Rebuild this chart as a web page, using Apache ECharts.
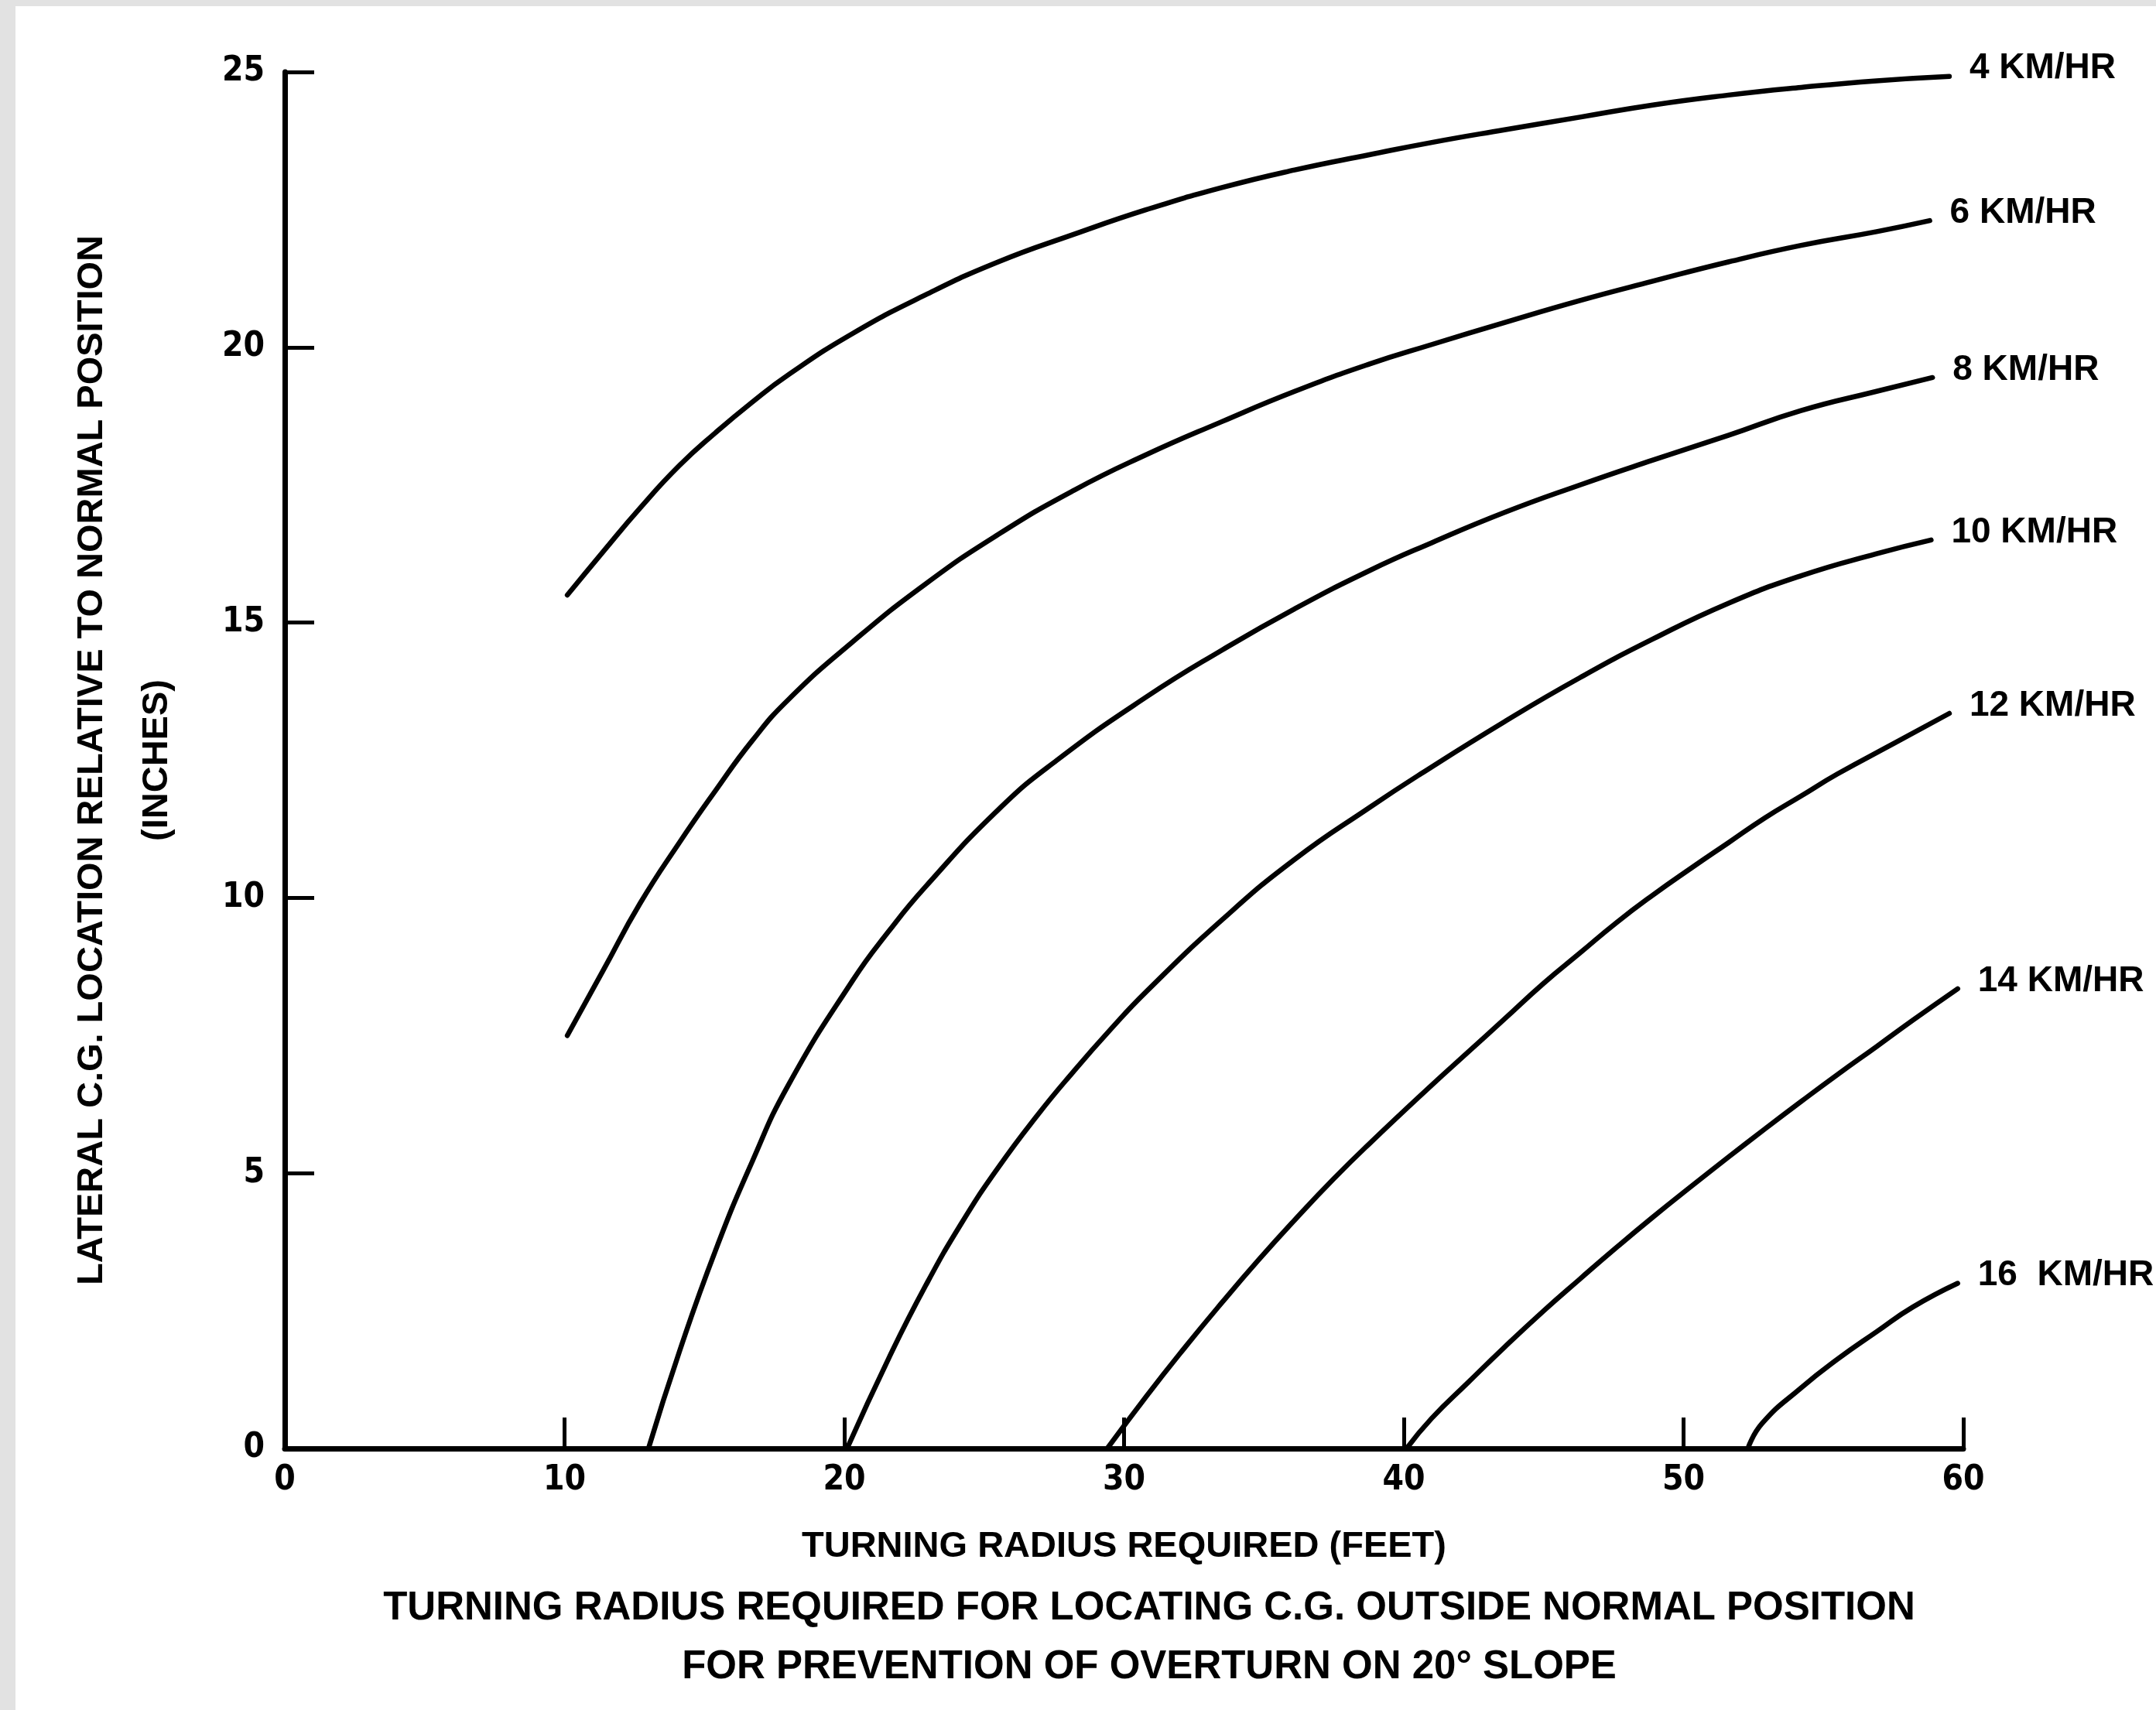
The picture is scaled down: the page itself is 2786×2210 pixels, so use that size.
<!DOCTYPE html>
<html><head><meta charset="utf-8">
<script src="https://cdn.jsdelivr.net/npm/echarts@6/dist/echarts.min.js"></script>
<style>
html,body{margin:0;padding:0;background:#e2e2e2;width:2786px;height:2210px;overflow:hidden}
#chart{position:absolute;left:20px;top:8px;width:2766px;height:2202px;background:#fff}
</style></head><body><div id="chart"></div>
<script>
// ---- data (turning radius ft, lateral C.G. inches) ----
const seriesNames = ['4 KM/HR', '6 KM/HR', '8 KM/HR', '10 KM/HR', '12 KM/HR', '14 KM/HR', '16  KM/HR'];
const speed4 = [[10.1,15.5],[11.4,16.3],[12.7,17.08],[14.1,17.85],[15.4,18.45],[16.7,19.0],[18.0,19.5],[20.3,20.25],[22.9,20.95],[25.5,21.55],[28.2,22.05],[30.8,22.5],[33.5,22.9],[36.1,23.22],[38.8,23.5],[41.0,23.72],[43.6,23.95],[46.3,24.18],[48.9,24.4],[51.6,24.58],[54.2,24.72],[56.9,24.84],[59.5,24.92]];
const speed6 = [[10.1,7.5],[11.4,8.7],[12.7,9.9],[14.1,11.0],[15.4,11.95],[16.7,12.85],[18.0,13.6],[20.3,14.65],[22.9,15.7],[25.5,16.6],[28.2,17.4],[30.8,18.05],[33.5,18.65],[36.1,19.2],[38.8,19.7],[41.0,20.05],[43.6,20.45],[46.3,20.85],[48.9,21.2],[51.6,21.55],[54.2,21.85],[56.9,22.1],[58.8,22.3]];
const speed8 = [[13.0,0],[14.1,1.75],[15.4,3.6],[16.7,5.2],[18.0,6.6],[20.3,8.5],[21.6,9.4],[22.9,10.2],[25.5,11.6],[27.6,12.5],[30.8,13.65],[33.5,14.5],[36.1,15.25],[38.8,15.95],[41.0,16.45],[43.6,17.0],[46.3,17.5],[48.9,17.95],[51.6,18.4],[54.2,18.85],[56.9,19.2],[58.9,19.45]];
const speed10 = [[20.1,0],[21.6,1.65],[22.9,2.95],[24.2,4.1],[25.5,5.1],[26.9,6.05],[28.2,6.85],[29.5,7.6],[30.8,8.3],[33.5,9.6],[36.1,10.7],[38.8,11.65],[40.6,12.25],[43.6,13.2],[46.3,14.0],[48.9,14.7],[51.6,15.35],[54.2,15.85],[56.9,16.25],[58.85,16.5]];
const speed12 = [[29.4,0],[30.8,0.95],[32.2,1.85],[33.5,2.65],[34.8,3.42],[36.1,4.15],[37.5,4.9],[38.8,5.55],[41.0,6.6],[42.3,7.2],[43.6,7.8],[45.0,8.45],[46.3,9.0],[47.6,9.55],[48.9,10.05],[50.3,10.55],[51.6,11.0],[52.9,11.45],[54.2,11.85],[55.5,12.25],[57.5,12.8],[59.5,13.35]];
const speed14 = [[40.1,0],[41.0,0.55],[42.3,1.2],[43.6,1.84],[45.0,2.5],[46.3,3.08],[47.6,3.65],[48.9,4.2],[50.3,4.77],[51.6,5.29],[52.9,5.8],[54.2,6.3],[55.5,6.79],[56.9,7.3],[58.2,7.78],[59.8,8.35]];
const speed16 = [[52.3,0],[52.8,0.45],[54.2,1.1],[55.5,1.62],[56.9,2.12],[58.2,2.57],[59.8,3.0]];
const xAxisTitle = 'TURNING RADIUS REQUIRED (FEET)';
const yAxisTitle = ['LATERAL C.G. LOCATION RELATIVE TO NORMAL POSITION', '(INCHES)'];
const captionLines = ['TURNING RADIUS REQUIRED FOR LOCATING C.G. OUTSIDE NORMAL POSITION', 'FOR PREVENTION OF OVERTURN ON 20° SLOPE'];
const xRange = [0, 60, 10];
const yRange = [0, 25, 5];

// ---- styling ----
const narrowFont = "'Liberation Sans Narrow', 'DejaVu Sans Condensed', sans-serif";
const mainFont = "'Liberation Sans', Arial, sans-serif";
const allData = [speed4, speed6, speed8, speed10, speed12, speed14, speed16];

const chart = echarts.init(document.getElementById('chart'), null, {renderer: 'canvas'});
chart.setOption({
  animation: false,
  backgroundColor: '#ffffff',
  grid: {left: 348, right: 249, top: 85, bottom: 338, containLabel: false},
  xAxis: {
    type: 'value', min: xRange[0], max: xRange[1], interval: xRange[2],
    name: xAxisTitle, nameLocation: 'middle', nameGap: 104,
    nameTextStyle: {fontFamily: mainFont, fontWeight: 'bold', fontSize: 47, color: '#000'},
    axisLine: {show: true, onZero: false, lineStyle: {color: '#000', width: 7}},
    axisTick: {show: true, inside: true, length: 40, lineStyle: {color: '#000', width: 5}},
    axisLabel: {margin: 20, fontFamily: narrowFont, fontWeight: 'bold', fontSize: 44, color: '#000'},
    splitLine: {show: false}
  },
  yAxis: {
    type: 'value', min: yRange[0], max: yRange[1], interval: yRange[2],
    name: yAxisTitle.join('\n'), nameLocation: 'middle', nameGap: 123, nameRotate: 90,
    nameTextStyle: {fontFamily: mainFont, fontWeight: 'bold', fontSize: 47, lineHeight: 84, color: '#000'},
    axisLine: {show: true, onZero: false, lineStyle: {color: '#000', width: 7}},
    axisTick: {show: true, inside: true, length: 38, lineStyle: {color: '#000', width: 5}},
    axisLabel: {margin: 26, fontFamily: narrowFont, fontWeight: 'bold', fontSize: 44, color: '#000'},
    splitLine: {show: false}
  },
  graphic: [{
    type: 'text', x: 1465, y: 2109, silent: true,
    style: {
      text: captionLines.join('\n'), textAlign: 'center', textVerticalAlign: 'middle',
      align: 'center', verticalAlign: 'middle',
      fontFamily: mainFont, fontWeight: 'bold', fontSize: 51, lineHeight: 76, fill: '#000'
    }
  }],
  series: seriesNames.map((name, i) => ({
    type: 'line', name: name, data: allData[i],
    showSymbol: false, symbol: 'none', smooth: 0.5,
    lineStyle: {color: '#000', width: 6.5, cap: 'round', join: 'round'},
    endLabel: {show: true, formatter: '{a}', distance: 26, offset: [0, -10],
      fontFamily: mainFont, fontWeight: 'bold', fontSize: 46, color: '#000'}
  }))
});
</script></body></html>
